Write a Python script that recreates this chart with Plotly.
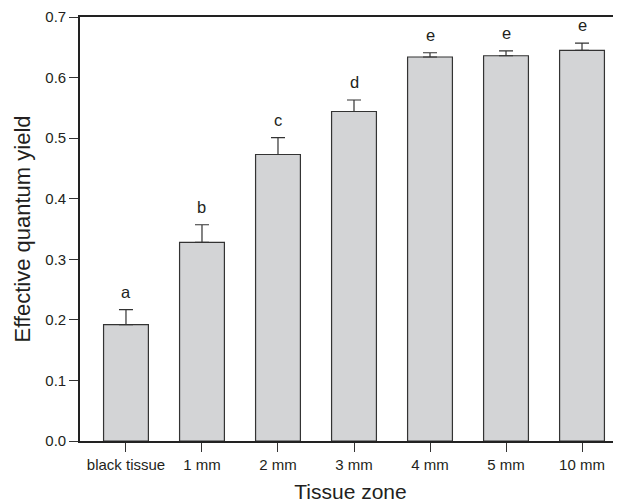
import plotly.graph_objects as go

categories = ["black tissue", "1 mm", "2 mm", "3 mm", "4 mm", "5 mm", "10 mm"]
yield_values = [0.192, 0.328, 0.473, 0.544, 0.634, 0.636, 0.645]
yield_errors = [0.025, 0.029, 0.028, 0.019, 0.007, 0.008, 0.012]
group_letters = ["a", "b", "c", "d", "e", "e", "e"]
y_ticks = [0.0, 0.1, 0.2, 0.3, 0.4, 0.5, 0.6, 0.7]

FONT = "Liberation Sans, Arial, sans-serif"
INK = "#231f20"

x_idx = list(range(len(categories)))

fig = go.Figure()
fig.add_trace(go.Bar(
    x=x_idx,
    y=yield_values,
    width=0.59,
    marker=dict(color="#d3d4d6", line=dict(color="#333333", width=1.2)),
    error_y=dict(type="data", symmetric=False, array=yield_errors,
                 arrayminus=[0] * len(yield_errors),
                 color="#333333", thickness=1.2, width=7),
    showlegend=False,
))

for xi, v, e, lab in zip(x_idx, yield_values, yield_errors, group_letters):
    fig.add_annotation(x=xi, y=v + e, text=lab, showarrow=False,
                       xref="x", yref="y", yanchor="bottom", yshift=7,
                       font=dict(family=FONT, size=16.5, color=INK))

# The page body adds an 8 px margin, so the figure is 8 px smaller and
# its margins 8 px narrower to land the plot where the reference has it.
fig.update_layout(
    width=613, height=495,
    margin=dict(l=72, r=0, t=6, b=57),
    paper_bgcolor="white", plot_bgcolor="white",
    font=dict(family=FONT, color=INK),
)

fig.update_xaxes(
    range=[-0.605, 6.513],
    tickmode="array", tickvals=x_idx, ticktext=categories,
    ticks="outside", ticklen=9, tickwidth=1.2, tickcolor="#333333",
    tickfont=dict(family=FONT, size=15, color=INK),
    ticklabeloverflow="allow",
    showline=True, linecolor="#222222", linewidth=1.6, mirror=True,
    showgrid=False, zeroline=False,
    title=dict(text="Tissue zone", font=dict(family=FONT, size=21, color=INK), standoff=16),
)

fig.update_yaxes(
    range=[0, 0.7],
    tickmode="array", tickvals=y_ticks, ticktext=[f"{t:.1f}" for t in y_ticks],
    ticks="outside", ticklen=9, tickwidth=1.2, tickcolor="#333333",
    tickfont=dict(family=FONT, size=15, color=INK),
    ticklabeloverflow="allow",
    showline=True, linecolor="#222222", linewidth=1.6, mirror=False,
    showgrid=False, zeroline=False,
    title=dict(text="Effective quantum yield", font=dict(family=FONT, size=22, color=INK), standoff=9),
)

fig.write_html("out.html")
